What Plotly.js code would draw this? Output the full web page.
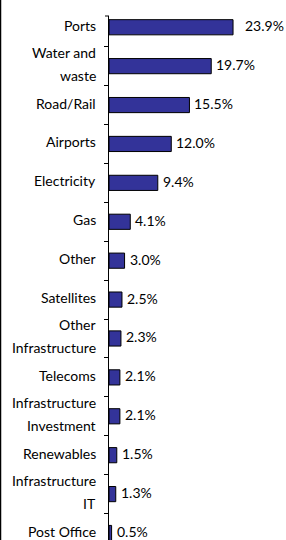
<!DOCTYPE html>
<html><head><meta charset="utf-8">
<script src="https://cdn.plot.ly/plotly-3.0.1.min.js"></script>
<style>html,body{margin:0;padding:0;overflow:hidden;background:#fff}</style>
</head><body><div id="chart" style="width:286px;height:540px"></div>
<script>
const categories = ["Ports","Water and waste","Road/Rail","Airports","Electricity","Gas","Other","Satellites","Other Infrastructure","Telecoms","Infrastructure Investment","Renewables","Infrastructure IT","Post Office"];
const labelLines = [["Ports"],["Water and","waste"],["Road/Rail"],["Airports"],["Electricity"],["Gas"],["Other"],["Satellites"],["Other","Infrastructure"],["Telecoms"],["Infrastructure","Investment"],["Renewables"],["Infrastructure","IT"],["Post Office"]];
const values = [23.9,19.7,15.5,12.0,9.4,4.1,3.0,2.5,2.3,2.1,2.1,1.5,1.3,0.5];
const valueLabels = ["23.9%","19.7%","15.5%","12.0%","9.4%","4.1%","3.0%","2.5%","2.3%","2.1%","2.1%","1.5%","1.3%","0.5%"];

const FONT = {family:"Lato, 'Open Sans', sans-serif", size:14, color:"#000"};
const L = 109, T = 16, W = 286, H = 540;
const pw = W - L, ph = H - T;
const annotations = [];
labelLines.forEach((lines, i) => {
  const n = lines.length;
  lines.forEach((ln, j) => {
    annotations.push({xref:"paper", yref:"y", x:(98 - L)/pw, y:categories[i], text:ln,
      xanchor:"right", yanchor:"middle", showarrow:false, font:FONT,
      yshift: 2 + (n === 1 ? 0 : (j === 0 ? 11.5 : -11.5))});
  });
});
values.forEach((v, i) => {
  annotations.push({xref:"x", yref:"y", x:v, y:categories[i], text:valueLabels[i],
    xanchor:"left", yanchor:"middle", showarrow:false, font:FONT, xshift: i === 0 ? 10 : 3, yshift:1.5});
});

const data = [{type:"bar", orientation:"h", x:values, y:categories,
  marker:{color:"#333399", line:{color:"#000", width:1}}, hoverinfo:"none"}];
const layout = {
  width:W, height:H, margin:{l:L, r:0, t:T, b:0, pad:0},
  paper_bgcolor:"#fff", plot_bgcolor:"#fff", showlegend:false, bargap:0.61,
  font:FONT,
  xaxis:{range:[0, pw/5.19], visible:false, fixedrange:true},
  yaxis:{type:"category", categoryarray:categories, range:[13.18, -0.289], autorange:false,
    showticklabels:false, showgrid:false, zeroline:false, showline:true, linecolor:"#000", linewidth:1,
    ticks:"outside", ticklen:4, tickcolor:"#000", tickwidth:1, tickson:"boundaries", fixedrange:true},
  annotations: annotations,
  shapes:[
    {type:"line", xref:"paper", yref:"paper", x0:(0.5 - L)/pw, x1:(0.5 - L)/pw, y0:-0.1, y1:1 + T/ph, line:{color:"#000", width:1.5}},
    {type:"line", xref:"paper", yref:"paper", x0:-4/pw, x1:0, y0:1, y1:1, line:{color:"#000", width:1}}
  ]
};
Plotly.newPlot("chart", data, layout, {displayModeBar:false, staticPlot:true});
</script></body></html>
